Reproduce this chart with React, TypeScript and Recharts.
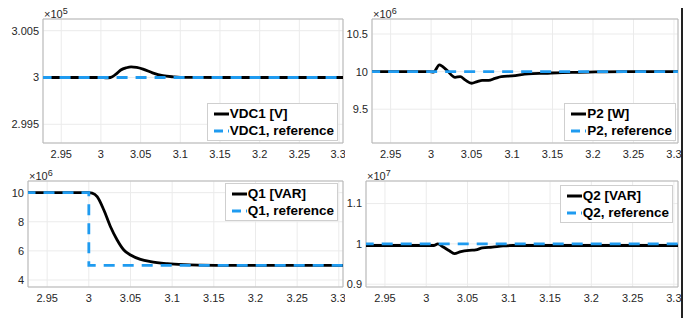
import React from 'react';
import { LineChart, Line, XAxis, YAxis, CartesianGrid, ReferenceArea } from 'recharts';

// shared time axis
const xTicks = [2.95, 3, 3.05, 3.1, 3.15, 3.2, 3.25, 3.3];
const xDomain: [number, number] = [2.927, 3.305];

// VDC1 [V], x10^5
const vdc1Time = [2.9, 3.0, 3.006, 3.012, 3.019, 3.025, 3.032, 3.038, 3.045, 3.053, 3.065, 3.078, 3.091, 3.1, 3.15, 3.4];
const vdc1Value = [3.0, 3.0, 2.99997, 3.0, 3.00036, 3.0008, 3.00104, 3.00114, 3.00108, 3.0009, 3.0005, 3.0002, 3.00007, 3.00002, 3.0, 3.0];
const vdc1RefTime = [2.9, 3.4];
const vdc1RefValue = [3, 3];
const vdc1Ticks = [2.995, 3, 3.005];

// P2 [W], x10^6
const p2Time = [2.9, 2.998, 3.003, 3.0103, 3.019, 3.0297, 3.036, 3.042, 3.05, 3.057, 3.063, 3.071, 3.079, 3.087, 3.1, 3.12, 3.141, 3.162, 3.182, 3.203, 3.24, 3.4];
const p2Value = [10, 10, 9.995, 10.089, 10.022, 9.924, 9.933, 9.89, 9.845, 9.867, 9.884, 9.884, 9.91, 9.933, 9.942, 9.969, 9.978, 9.987, 9.991, 9.996, 10, 10];
const p2RefTime = [2.9, 3.4];
const p2RefValue = [10, 10];
const p2Ticks = [9.5, 10, 10.5];

// Q1 [VAR], x10^6
const q1Time = [2.9, 3.0, 3.004, 3.01, 3.018, 3.026, 3.034, 3.042, 3.05, 3.062, 3.074, 3.094, 3.114, 3.134, 3.17, 3.4];
const q1Value = [10, 10, 9.97, 9.73, 8.81, 7.66, 6.75, 6.06, 5.72, 5.42, 5.26, 5.12, 5.05, 5.02, 5.0, 5.0];
const q1RefTime = [2.9, 3.0, 3.0, 3.4];
const q1RefValue = [10, 10, 5, 5];
const q1Ticks = [4, 6, 8, 10];

// Q2 [VAR], x10^7
const q2Time = [2.9, 3.009, 3.014, 3.02, 3.028, 3.034, 3.042, 3.052, 3.06, 3.068, 3.08, 3.093, 3.105, 3.4];
const q2Value = [0.996, 0.996, 1.0, 0.993, 0.983, 0.976, 0.981, 0.984, 0.985, 0.99, 0.992, 0.995, 0.996, 0.996];
const q2RefTime = [2.9, 3.4];
const q2RefValue = [1, 1];
const q2Ticks = [0.9, 1, 1.1];

const BLUE = '#1f9bf0';
const FONT = '"Liberation Sans", Arial, sans-serif';

const zip = (t: number[], v: number[]) => t.map((x, i) => ({ t: x, v: v[i] }));

interface PanelProps {
  left: number;
  top: number;
  width: number;
  height: number;
  yWidth: number;
  mTop: number;
  mRight: number;
  xHeight: number;
  yDomain: [number, number];
  yTicks: number[];
  series: { t: number; v: number }[];
  reference: { t: number; v: number }[];
  exponent: string;
  label: string;
  refLabel: string;
  legendRight: number;
  legendTop: number;
}

const LegendBox = ({ label, refLabel, right, top }: { label: string; refLabel: string; right: number; top: number }) => (
  <div
    style={{
      position: 'absolute', right, top, background: '#fff', border: '1px solid #cfcfcf',
      padding: '1px 3px 1px 6px', fontFamily: FONT, fontWeight: 'bold', fontSize: 13.5, color: '#000',
    }}
  >
    {[label, refLabel].map((txt, i) => (
      <div key={txt} style={{ display: 'flex', alignItems: 'center', height: 17 }}>
        <svg width={15} height={4} style={{ marginRight: 1 }}>
          <line x1={0} y1={2} x2={15} y2={2} stroke={i === 0 ? '#000' : BLUE} strokeWidth={3}
            strokeDasharray={i === 0 ? undefined : '9 5'} />
        </svg>
        <span>{txt}</span>
      </div>
    ))}
  </div>
);

const Panel = (p: PanelProps) => (
  <div style={{ position: 'absolute', left: p.left, top: p.top, width: p.width, height: p.height }}>
    <LineChart width={p.width} height={p.height} margin={{ top: p.mTop, right: p.mRight, bottom: 0, left: 0 }}>
      <CartesianGrid stroke="#ebebeb" strokeWidth={1} />
      <XAxis
        dataKey="t" type="number" domain={xDomain} ticks={xTicks} allowDataOverflow
        axisLine={false} tickLine={false} tickSize={0} tickMargin={7} height={p.xHeight}
        tick={{ fill: '#262626', fontSize: 11, fontFamily: FONT }} tickFormatter={(v) => String(v)}
      />
      <YAxis
        type="number" domain={p.yDomain} ticks={p.yTicks} allowDataOverflow
        axisLine={false} tickLine={false} tickSize={0} tickMargin={4} width={p.yWidth}
        tick={{ fill: '#262626', fontSize: 11, fontFamily: FONT }} tickFormatter={(v) => String(v)}
      />
      <ReferenceArea x1={xDomain[0]} x2={xDomain[1]} y1={p.yDomain[0]} y2={p.yDomain[1]}
        fill="none" stroke="#b5b5b5" strokeWidth={1} fillOpacity={0} />
      <Line data={p.series} dataKey="v" type="monotone" stroke="#000" strokeWidth={2.8} dot={false}
        isAnimationActive={false} />
      <Line data={p.reference} dataKey="v" type="linear" stroke={BLUE} strokeWidth={2.8} dot={false}
        strokeDasharray="11 8" isAnimationActive={false} />
    </LineChart>
    <div style={{ position: 'absolute', left: p.yWidth + 1, top: p.mTop - 10, fontFamily: FONT, fontSize: 11,
      color: '#262626', lineHeight: '11px', whiteSpace: 'nowrap' }}>
      ×10<span style={{ position: 'relative', top: -4, fontSize: 9 }}>{p.exponent}</span>
    </div>
    <LegendBox label={p.label} refLabel={p.refLabel} right={p.legendRight} top={p.legendTop} />
  </div>
);

export default function App() {
  return (
    <div style={{ position: 'relative', width: 697, height: 326, margin: -8, background: '#fff' }}>
      <Panel left={0} top={0} width={345} height={165} yWidth={43} mTop={19} mRight={2} xHeight={22}
        yDomain={[2.993, 3.00625]} yTicks={vdc1Ticks} series={zip(vdc1Time, vdc1Value)}
        reference={zip(vdc1RefTime, vdc1RefValue)} exponent="5" label="VDC1 [V]" refLabel="VDC1, reference"
        legendRight={7} legendTop={103} />
      <Panel left={345} top={0} width={340} height={165} yWidth={27} mTop={19} mRight={7} xHeight={22}
        yDomain={[9.05, 10.7]} yTicks={p2Ticks} series={zip(p2Time, p2Value)}
        reference={zip(p2RefTime, p2RefValue)} exponent="6" label="P2 [W]" refLabel="P2, reference"
        legendRight={9} legendTop={103} />
      <Panel left={0} top={165} width={345} height={150} yWidth={28} mTop={16} mRight={2} xHeight={28}
        yDomain={[3.52, 10.8]} yTicks={q1Ticks} series={zip(q1Time, q1Value)}
        reference={zip(q1RefTime, q1RefValue)} exponent="6" label="Q1 [VAR]" refLabel="Q1, reference"
        legendRight={7} legendTop={18} />
      <Panel left={345} top={165} width={340} height={150} yWidth={21} mTop={16} mRight={7} xHeight={28}
        yDomain={[0.893, 1.156]} yTicks={q2Ticks} series={zip(q2Time, q2Value)}
        reference={zip(q2RefTime, q2RefValue)} exponent="7" label="Q2 [VAR]" refLabel="Q2, reference"
        legendRight={12} legendTop={20} />
      {/* frame lines from the surrounding page */}
      <div style={{ position: 'absolute', left: 681, top: 0, width: 2, height: 324, background: '#222' }} />
      <div style={{ position: 'absolute', left: 12, top: 322, width: 671, height: 2, background: '#222' }} />
    </div>
  );
}
